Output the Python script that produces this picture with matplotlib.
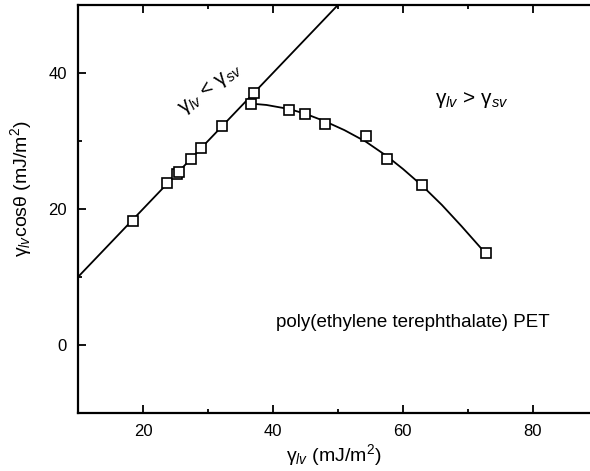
import matplotlib
matplotlib.use("Agg")
import matplotlib.pyplot as plt
from matplotlib.ticker import FixedLocator

plt.rcParams['font.family'] = ['Liberation Sans', 'DejaVu Sans']
plt.rcParams['mathtext.fontset'] = 'custom'
plt.rcParams['mathtext.rm'] = 'Liberation Sans'
plt.rcParams['mathtext.it'] = 'Liberation Sans:italic'

# measured points
pts_x = [18.4, 23.7, 25.3, 25.6, 27.4, 28.9, 32.2, 36.6, 37.1, 42.5, 45.0, 48.0, 54.3, 57.5, 63.0, 72.8]
pts_y = [18.2, 23.8, 25.1, 25.5, 27.3, 28.9, 32.2, 35.5, 37.1, 34.5, 33.9, 32.5, 30.7, 27.4, 23.5, 13.6]

# straight line (gamma_lv < gamma_sv)
line_x = [10, 50]
line_y = [10, 50]

# curve (gamma_lv > gamma_sv)
curve_x = [36.6, 39.0, 42.5, 45.0, 48.0, 51.0, 54.3, 57.5, 60.0, 63.0, 66.0, 69.0, 72.8]
curve_y = [35.5, 35.3, 34.7, 34.0, 32.9, 31.6, 29.9, 27.8, 25.9, 23.4, 20.6, 17.5, 13.4]

xticks = [20, 40, 60, 80]
yticks = [0, 20, 40]

fig = plt.figure(figsize=(5.9, 4.71), dpi=100)
ax = fig.add_axes([78/590, 1 - 413/471, 1 - 78/590, (413 - 5)/471])

ax.plot(line_x, line_y, color='black', lw=1.3)
ax.plot(curve_x, curve_y, color='black', lw=1.3)
ax.plot(pts_x, pts_y, linestyle='none', marker='s', markersize=7.5,
        markerfacecolor='white', markeredgecolor='black', markeredgewidth=1.2, zorder=3)

ax.set_xlim(10, 88.8)
ax.set_ylim(-10, 50)
ax.set_xticks(xticks)
ax.set_yticks(yticks)
ax.xaxis.set_minor_locator(FixedLocator([30, 50, 70]))
ax.yaxis.set_minor_locator(FixedLocator([-10, 10, 30]))
ax.tick_params(axis='both', which='major', direction='in', length=6, width=1.3,
               labelsize=12, pad=8)
ax.tick_params(axis='both', which='minor', direction='in', length=3, width=1.3)
ax.tick_params(axis='x', which='both', top=True)
ax.tick_params(axis='y', which='both', right=False)

for s in ['left', 'bottom', 'top']:
    ax.spines[s].set_linewidth(1.6)
ax.spines['right'].set_visible(False)

ax.set_xlabel(r'$\mathrm{\gamma}_{lv}$ (mJ/m$^2$)', fontsize=14, labelpad=2)
ax.set_ylabel(r'$\mathrm{\gamma}_{lv}$cos$\mathrm{\theta}$ (mJ/m$^2$)', fontsize=14)
ax.yaxis.set_label_coords(-0.085, 0.55)

ax.text(30.3, 37.6, r'$\mathrm{\gamma}_{lv}$ < $\mathrm{\gamma}_{sv}$', fontsize=15, rotation=37,
        ha='center', va='center')
ax.text(70.6, 36.0, r'$\mathrm{\gamma}_{lv}$ > $\mathrm{\gamma}_{sv}$', fontsize=15,
        ha='center', va='center')
ax.text(61.5, 3.3, 'poly(ethylene terephthalate) PET', fontsize=13.5,
        ha='center', va='center')

fig.savefig('out.png', dpi=100)
